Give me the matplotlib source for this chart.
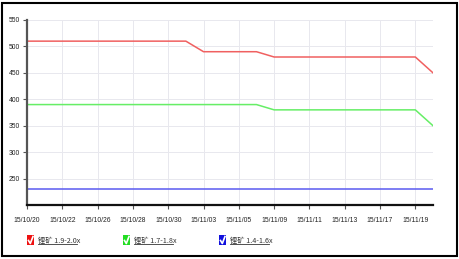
import matplotlib
matplotlib.use("Agg")
import matplotlib.pyplot as plt
from matplotlib.patches import Rectangle
from matplotlib.lines import Line2D
from matplotlib import font_manager

plt.rcParams['font.family'] = ['Noto Sans CJK SC', 'DejaVu Sans']

dates = ["15/10/20", "15/10/21", "15/10/22", "15/10/23", "15/10/26", "15/10/27",
         "15/10/28", "15/10/29", "15/10/30", "15/11/02", "15/11/03", "15/11/04",
         "15/11/05", "15/11/06", "15/11/09", "15/11/10", "15/11/11", "15/11/12",
         "15/11/13", "15/11/16", "15/11/17", "15/11/18", "15/11/19", "15/11/20"]
s_high = [510]*10 + [490]*4 + [480]*9 + [450]
s_mid = [390]*14 + [380]*9 + [350]
s_low = [230]*24
series_names = ["锂矿 1.9-2.0x", "锂矿 1.7-1.8x", "锂矿 1.4-1.6x"]
colors = ["#f06060", "#66ee66", "#5a5af0"]
box_colors = ["#ee1111", "#22dd22", "#1111dd"]
yticks = [250, 300, 350, 400, 450, 500, 550]

names = {f.name for f in font_manager.fontManager.ttflist}
tick_family = "Liberation Sans Narrow" if "Liberation Sans Narrow" in names else "Liberation Sans"
tick_size = 5.9 if tick_family == "Liberation Sans Narrow" else 4.9

fig = plt.figure(figsize=(4.6, 2.59), dpi=100)
ax = fig.add_axes([27/460, 1-205/259, (433-27)/460, (205-20)/259])

x = list(range(len(dates)))
for vals, c in zip([s_high, s_mid, s_low], colors):
    ax.plot(x, vals, color=c, lw=1.1)

ax.set_xlim(0, len(dates)-1)
ax.set_ylim(200, 550)
ax.set_yticks(yticks)
ax.set_xticks(x[::2])
ax.set_xticklabels(dates[::2])
ax.grid(True, color="#e8e8ee", lw=0.7)
ax.set_axisbelow(True)
for s in ["top", "right"]:
    ax.spines[s].set_visible(False)
ax.spines["left"].set_color("#555555")
ax.spines["left"].set_linewidth(1.6)
ax.spines["bottom"].set_color("#111111")
ax.spines["bottom"].set_linewidth(1.6)
ax.tick_params(axis="both", length=3, width=0.8, color="#555555",
               labelsize=tick_size, labelcolor="#222222", pad=2)
for lab in ax.get_xticklabels() + ax.get_yticklabels():
    lab.set_family([tick_family, "DejaVu Sans"])
ax.tick_params(axis="x", pad=6)

# legend
xs = [27, 123, 219]
ly = 240
for i, (name, bc) in enumerate(zip(series_names, box_colors)):
    x0 = xs[i]
    fig.patches.append(Rectangle((x0/460, 1-(ly+5)/259), 7/460, 10/259,
                                 transform=fig.transFigure, facecolor=bc,
                                 edgecolor="none"))
    fig.lines.append(Line2D([(x0+1.5)/460, (x0+3.3)/460, (x0+6)/460],
                            [1-(ly+0.5)/259, 1-(ly+3.5)/259, 1-(ly-3.5)/259],
                            transform=fig.transFigure, color="white", lw=1.2))
    fig.text((x0+11)/460, 1-(ly+2.5)/259, name, fontsize=5.2, color="#333333",
             va="baseline", ha="left",
             family=["Noto Sans CJK SC", "DejaVu Sans"])
    fig.lines.append(Line2D([(x0+11)/460, (x0+50)/460], [1-(ly+4)/259]*2,
                            transform=fig.transFigure, color="#333333", lw=0.6))

fig.patches.append(Rectangle((2/460, 3/259), 455/460, 253/259,
                             transform=fig.transFigure, fill=False,
                             edgecolor="black", lw=1.5))
fig.savefig("out.png", dpi=100)
